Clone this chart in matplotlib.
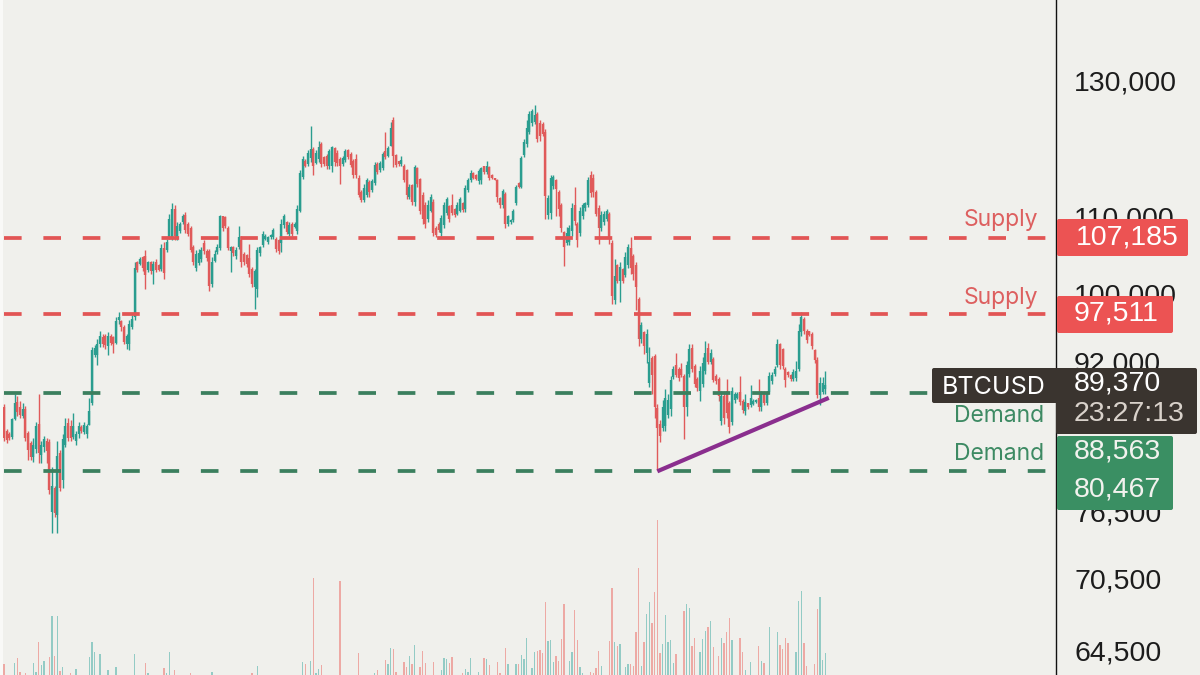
from matplotlib import pyplot as plt
from matplotlib.patches import FancyBboxPatch, Rectangle
import numpy as np

# BTCUSD daily candles, prices in thousands of USD
opens = [87.0,84.5,84.2,83.9,85.7,87.6,87.0,86.1,86.8,84.3,
         83.2,81.8,82.6,85.2,82.0,82.8,83.5,83.4,76.5,78.8,
         76.2,82.2,79.5,83.0,85.3,85.0,83.9,83.5,84.2,84.9,
         84.4,84.2,85.1,87.4,92.8,92.8,94.0,94.9,95.0,93.8,
         95.0,94.8,94.2,96.8,96.7,96.0,94.0,94.0,96.0,97.2,
         104.0,103.8,104.6,104.8,103.0,104.0,102.8,104.0,103.6,103.1,
         105.8,105.6,107.1,107.2,111.0,107.2,108.0,109.2,110.2,109.0,
         108.4,106.0,103.3,103.9,104.4,106.5,105.4,105.4,101.2,104.2,
         105.3,105.8,110.0,109.9,108.5,105.4,105.9,104.8,105.9,106.8,
         105.0,104.9,104.5,103.1,100.8,100.6,105.2,106.2,107.0,106.6,
         107.2,107.2,107.0,106.8,106.5,108.8,109.2,107.6,109.0,108.6,
         108.0,110.8,115.5,117.8,117.3,118.2,119.5,117.5,118.0,120.2,
         118.3,118.5,117.0,117.0,119.6,119.0,118.0,117.3,117.9,119.3,
         118.8,117.8,118.0,115.4,113.4,112.3,113.0,114.8,113.7,114.6,
         117.4,116.4,116.7,119.2,118.5,120.0,123.9,118.6,117.7,117.4,
         117.1,116.4,112.7,114.3,112.0,116.7,115.2,113.0,111.6,109.6,
         110.8,112.0,108.4,109.0,107.8,108.9,110.5,111.4,111.5,111.0,
         110.4,110.8,111.8,111.0,113.7,115.0,116.0,115.8,114.9,115.0,
         117.0,116.2,116.9,115.8,115.3,115.0,112.5,111.6,113.1,109.0,
         109.2,109.5,111.9,114.6,114.1,118.6,120.2,122.0,123.4,123.6,
         124.8,123.4,123.2,122.0,110.2,110.5,114.2,115.0,113.4,111.5,
         107.9,106.5,106.6,108.0,111.6,109.0,107.8,110.0,111.1,111.6,
         115.8,115.4,113.4,111.2,108.5,109.2,109.7,110.4,106.5,99.2,
         103.6,101.6,103.1,102.4,103.6,105.8,104.8,103.6,99.4,94.6,
         95.4,93.0,89.6,92.4,92.6,86.9,85.2,84.8,85.0,86.2,
         86.8,90.3,91.6,91.2,91.2,90.4,87.0,90.6,93.6,91.5,
         90.1,88.8,89.5,91.0,93.6,92.0,92.3,90.4,90.1,85.5,
         88.2,88.8,87.4,85.4,87.8,88.0,88.6,87.7,86.6,87.4,
         87.2,87.3,87.6,88.0,87.0,88.5,87.5,88.6,89.8,90.6,
         91.6,94.0,93.4,91.2,90.8,90.5,90.1,90.2,91.2,95.4,
         97.0,95.6,95.5,95.2,93.3,92.2,88.3,88.6,89.0]
highs = [87.3,84.7,84.4,85.9,88.4,88.2,87.7,87.5,87.1,84.5,
         83.5,83.8,85.4,88.4,83.5,84.0,83.8,83.7,80.8,79.0,
         83.5,82.5,84.2,85.8,85.9,85.6,86.4,84.5,85.4,85.1,
         85.4,85.2,88.0,93.7,93.9,94.6,95.6,95.2,95.2,95.4,
         95.2,95.0,97.2,97.8,96.8,96.2,95.2,96.8,97.4,104.0,
         104.2,104.6,104.8,105.5,104.2,104.2,104.2,104.4,103.8,106.3,
         106.6,107.0,110.4,111.8,111.6,109.2,109.2,110.4,110.6,109.2,
         108.7,106.2,105.5,105.7,105.9,106.8,105.7,105.7,104.6,105.5,
         106.3,110.2,110.1,110.1,108.7,106.1,106.1,105.9,108.7,107.4,
         105.3,105.1,106.3,103.4,103.1,105.9,106.1,108.1,107.7,107.4,
         107.7,108.5,107.2,107.0,109.6,110.4,109.4,109.2,109.2,109.2,
         111.6,116.4,118.5,118.0,119.3,123.0,119.8,119.3,120.7,120.5,
         118.5,118.8,119.5,120.0,119.8,119.3,118.3,118.5,119.5,119.5,
         119.1,118.0,118.8,115.7,113.6,114.5,115.4,115.0,115.2,117.6,
         117.6,117.8,119.1,122.0,120.0,123.5,124.3,118.8,117.8,118.5,
         117.3,116.6,114.5,114.5,117.2,116.9,115.4,113.4,112.0,112.2,
         113.1,112.4,108.7,109.2,110.2,112.0,112.7,111.6,113.1,111.2,
         112.0,112.7,112.0,114.3,115.4,116.4,116.2,115.9,116.6,116.9,
         117.1,117.8,117.1,115.9,115.4,115.2,112.7,113.8,113.4,110.2,
         109.6,111.0,114.3,114.8,118.5,121.0,123.8,125.3,125.6,126.1,
         125.1,123.8,123.5,122.5,113.0,115.7,115.8,115.2,113.6,111.8,
         108.1,108.6,108.8,111.8,114.1,109.2,111.3,111.8,112.0,115.5,
         116.3,115.9,113.6,111.5,110.8,110.8,111.0,110.6,106.8,104.4,
         103.8,104.0,103.3,105.3,106.4,107.2,105.1,104.0,99.6,96.6,
         95.6,95.8,93.7,92.7,92.9,87.3,85.6,87.8,89.0,88.4,
         90.4,91.5,93.0,91.4,91.9,90.6,92.1,94.0,94.0,91.7,
         90.3,91.5,92.5,94.4,94.2,93.5,92.5,90.6,90.3,88.8,
         88.8,90.1,87.7,89.2,88.6,88.6,90.4,87.9,88.4,87.5,
         89.4,87.9,87.9,90.1,88.8,88.8,88.8,90.8,90.8,91.5,
         94.6,94.2,93.6,91.4,91.0,90.6,91.2,92.1,96.4,97.8,
         97.2,95.8,95.6,95.4,93.5,92.5,90.3,90.3,91.0]
lows = [83.5,83.2,83.6,83.7,85.6,86.1,85.8,85.8,83.5,81.5,
        81.5,81.3,82.2,81.2,81.2,82.3,81.2,78.2,74.5,76.0,
        74.5,78.5,78.8,82.8,83.5,83.5,83.7,83.0,83.8,84.3,
        84.2,83.8,85.1,87.2,92.5,91.6,93.7,93.7,93.5,92.8,
        93.9,93.0,94.0,96.4,95.6,94.0,93.5,93.3,95.8,96.8,
        102.7,103.6,102.9,100.6,102.7,102.5,101.2,102.7,102.9,102.9,
        101.9,105.3,107.0,106.8,106.8,106.8,107.8,109.0,107.8,107.4,
        105.3,103.6,102.9,103.6,104.0,105.1,104.2,100.4,100.8,104.0,
        105.1,105.5,108.1,108.5,105.5,102.7,104.8,104.4,105.7,103.4,
        103.6,103.4,102.1,100.8,98.2,99.6,104.8,105.9,106.8,106.3,
        107.0,107.0,105.3,105.1,105.3,108.5,107.7,107.4,107.4,108.5,
        107.7,110.6,115.2,116.9,117.1,117.6,115.7,117.3,117.6,116.9,
        117.1,116.6,116.6,116.2,117.1,117.1,114.5,117.1,117.6,118.0,
        116.9,115.4,115.4,112.7,112.0,112.0,112.7,112.7,113.4,114.3,
        115.9,116.2,116.4,118.0,118.3,120.0,116.9,116.9,117.1,117.1,
        114.8,112.4,112.4,111.6,111.4,114.1,110.4,109.0,108.5,109.2,
        110.6,107.4,107.2,107.9,107.4,108.5,110.2,109.2,110.2,109.9,
        110.2,110.6,110.6,110.6,113.4,114.8,115.2,115.0,114.5,114.5,
        115.9,115.9,115.0,115.2,115.0,112.0,111.2,111.2,108.5,108.7,
        109.0,109.2,111.6,113.9,113.9,118.3,119.8,121.7,123.0,123.3,
        120.5,120.7,121.5,109.6,109.7,109.7,113.8,110.0,110.0,107.9,
        103.5,106.2,106.2,107.4,108.9,106.0,107.4,109.7,110.8,111.3,
        112.7,112.7,110.0,106.4,108.1,108.9,109.4,106.4,98.8,98.8,
        101.3,99.0,101.3,102.1,103.3,102.5,101.7,98.0,93.8,94.2,
        92.9,91.9,89.2,88.4,85.9,80.5,83.3,84.5,84.5,85.9,
        86.1,90.1,90.3,89.9,90.3,83.7,86.1,90.3,90.8,89.2,
        88.8,87.7,89.2,90.6,91.7,91.7,89.7,89.5,87.7,85.1,
        85.2,85.9,84.3,85.1,87.5,87.9,87.2,86.4,86.2,86.8,
        87.0,87.2,87.5,86.6,86.6,87.2,87.2,88.4,89.5,90.4,
        91.4,91.2,91.2,89.2,90.3,89.9,89.9,89.9,91.0,95.0,
        95.2,94.2,95.0,93.5,91.9,88.0,87.2,88.4,88.4]
closes = [83.8,83.6,83.8,85.7,87.4,86.5,86.2,86.8,83.8,82.5,
          81.8,83.0,85.0,82.2,83.0,83.7,82.4,78.6,79.0,76.4,
          81.9,78.8,83.7,85.0,83.8,83.8,85.0,84.2,85.0,84.5,
          85.1,85.0,86.6,93.3,93.6,94.0,95.0,94.0,93.9,95.0,
          94.1,94.0,96.7,97.2,96.0,94.3,95.0,96.4,97.0,103.3,
          103.0,104.4,103.2,102.4,104.0,102.8,103.8,103.0,103.0,105.8,
          102.6,106.6,109.6,111.0,107.4,108.7,109.0,110.0,108.2,107.6,
          105.6,104.0,105.0,105.2,105.6,105.4,104.5,101.0,104.0,105.0,
          106.0,110.0,108.5,108.7,105.8,106.0,105.2,105.6,107.3,104.0,
          104.0,103.7,102.5,101.2,102.9,105.6,105.9,107.6,107.4,107.2,
          107.5,108.2,105.7,105.4,109.0,110.0,107.9,108.9,107.6,109.0,
          111.0,116.0,118.0,117.1,119.0,119.5,117.0,119.0,119.8,117.4,
          117.4,117.0,119.2,119.8,117.6,117.5,117.0,118.2,119.2,118.3,
          117.2,115.7,115.8,113.0,112.3,113.9,115.0,113.4,114.9,117.2,
          116.2,117.5,118.8,118.3,119.7,122.6,118.5,117.2,117.3,117.9,
          115.0,113.0,114.0,112.0,116.9,114.5,110.8,109.6,109.0,111.6,
          112.7,107.8,107.5,108.2,109.8,111.5,112.4,109.6,110.5,110.2,
          111.6,112.4,110.9,113.9,115.1,116.0,115.4,115.2,116.3,116.7,
          116.2,117.0,115.3,115.4,115.1,112.6,111.5,113.5,109.0,110.0,
          109.5,110.7,114.0,114.1,118.2,120.6,122.6,124.8,125.2,124.6,
          121.0,121.5,121.8,112.8,112.5,115.4,115.5,113.8,111.0,108.4,
          106.0,107.8,108.4,111.2,109.4,106.8,110.8,111.5,111.8,115.0,
          113.2,113.4,110.4,108.4,110.2,110.4,110.8,107.0,99.8,102.2,
          101.6,103.4,101.6,104.6,105.9,103.3,102.5,100.8,94.6,96.2,
          93.8,95.2,92.0,90.5,87.0,84.8,84.0,87.0,88.0,87.8,
          90.0,91.2,90.5,90.2,90.5,87.0,91.6,93.4,91.2,89.5,
          89.1,91.0,91.9,93.0,92.0,93.0,90.0,89.8,88.2,88.2,
          85.8,86.4,84.9,88.8,88.4,88.4,87.6,86.7,87.6,87.0,
          88.0,87.7,87.8,87.0,88.4,87.5,88.4,90.4,90.5,91.2,
          94.0,91.6,91.5,90.0,90.5,90.1,90.9,91.0,95.6,97.2,
          95.6,94.5,95.1,93.8,92.2,88.3,89.6,89.6,89.4]
volumes = [11,0,0,0,12,17,3,0,2,0,
           0,12,3,33,10,14,0,18,59,19,
           59,4,8,0,0,2,0,6,0,0,
           0,0,18,33,23,0,21,0,0,5,
           0,0,8,0,0,0,0,0,0,21,
           0,0,0,12,2,0,0,0,0,0,
           7,2,23,0,5,0,0,0,0,0,
           2,0,0,0,0,0,0,0,3,0,
           0,0,0,0,0,0,0,0,0,0,
           0,0,0,2,0,9,0,0,0,0,
           0,0,0,0,0,0,0,0,0,0,
           0,0,13,11,0,14,97,2,6,10,
           0,0,0,0,0,0,94,0,0,0,
           0,0,0,22,0,0,0,0,0,2,
           5,0,0,15,11,27,26,3,0,0,
           13,8,19,11,30,0,8,24,12,0,
           0,13,0,0,5,17,16,12,18,0,
           0,0,2,6,3,17,0,0,3,0,
           17,16,10,0,0,13,2,0,27,11,
           0,0,11,11,20,16,37,0,7,23,
           24,25,22,73,34,35,13,19,14,36,
           71,0,14,23,65,35,8,2,0,0,
           3,2,7,24,9,0,0,34,87,33,
           29,31,0,8,11,11,9,43,107,9,
           33,61,73,52,83,155,22,31,60,33,
           35,12,21,0,0,64,71,67,29,37,
           0,23,36,44,48,54,28,0,19,37,
           32,43,57,35,0,0,37,23,5,0,
           13,0,0,29,14,12,0,48,0,0,
           43,30,26,37,32,0,0,23,74,84,
           32,9,0,0,11,66,78,15,22]

supply_levels = [107.185, 97.511]
demand_levels = [88.563, 80.467]
trend_x = [245, 309.3]
trend_y = [80.4, 88.0]
price_ticks = [130, 110, 100, 92, 83, 76.5, 70.5, 64.5]
price_labels = ['130,000', '110,000', '100,000', '92,000', '83,000', '76,500', '70,500', '64,500']

BG = '#f0f0ec'
UP = '#2a9d8f'
DOWN = '#e05a5a'
SUPPLY = '#e25555'
DEMAND = '#3b7f5e'
FONT = ['Inter', 'DejaVu Sans']
NUMS = ['Liberation Sans', 'DejaVu Sans']

opens, highs, lows, closes = map(np.array, (opens, highs, lows, closes))
x = np.arange(len(closes))
colors = np.where(closes >= opens, UP, DOWN)
vol_colors = np.where(closes >= opens, '#93cbc5', '#eda9a4')

fig = plt.figure(figsize=(12, 6.75), dpi=100, facecolor=BG)
pos = [0, 0, 1056 / 1200, 1]

# volume sits behind the price panel
vax = fig.add_axes(pos, facecolor=BG)
vax.bar(x, volumes, width=0.55, color=vol_colors)
vax.set_xlim(-1.5, 394.5)
vax.set_ylim(0, 675)
vax.axis('off')

ax = fig.add_axes(pos, facecolor='none')
ax.set_yscale('log')
ax.vlines(x, lows, highs, colors=colors, lw=1.0, zorder=2)
ax.vlines(x, opens, closes, colors=colors, lw=1.7, zorder=3)
dash = (0, (4.7, 5.8))
for level in supply_levels:
    ax.hlines(level, 0, 392, colors=SUPPLY, lw=2.7, linestyles=[dash], zorder=4)
for level in demand_levels:
    ax.hlines(level, 0, 392, colors=DEMAND, lw=2.7, linestyles=[dash], zorder=4)
ax.plot(trend_x, trend_y, color='#8a2e8e', lw=3, solid_capstyle='butt', zorder=5)

ax.set_xlim(-1.5, 394.5)
ax.set_ylim(62.58, 143.56)
ax.set_xticks([])
ax.yaxis.tick_right()
ax.set_yticks(price_ticks, price_labels, family=NUMS, fontsize=20.5, color='#1c1c1c')
ax.minorticks_off()
ax.tick_params(axis='y', length=0, pad=13)
for side in ['left', 'top', 'bottom']:
    ax.spines[side].set_visible(False)
ax.spines['right'].set_color('#111111')
ax.spines['right'].set_linewidth(1.0)

# overlay in pixels for the price tags and labels
tags = fig.add_axes([0, 0, 1, 1], facecolor='none')
tags.set_xlim(0, 1200)
tags.set_ylim(675, 0)
tags.axis('off')
tags.add_patch(Rectangle((0, 0), 3, 675, color='#f9f9f7', lw=0))


def tag(x0, y0, x1, y1, color):
    tags.add_patch(FancyBboxPatch((x0 + 2, y0 + 2), x1 - x0 - 4, y1 - y0 - 4,
                                  boxstyle='round,pad=2,rounding_size=2', fc=color, ec='none'))


def label(x0, y0, s, color, size=20.5, ha='left', family=NUMS):
    tags.text(x0, y0, s, color=color, fontsize=size, family=family, ha=ha, va='center')


tag(1057, 219, 1188, 256, '#ec5353')
tag(1057, 296, 1173, 333, '#ec5353')
tag(1057, 436, 1173, 510, '#3a8f63')
tag(932, 368, 1060, 403, '#3a342f')
tag(1056, 368, 1197, 434, '#3a342f')

label(1076, 237, '107,185', 'white')
label(1074, 314, '97,511', 'white')
label(1074, 452, '88,563', '#f2f2ee')
label(1074, 489, '80,467', '#f2f2ee')
label(1074, 383, '89,370', 'white')
label(1074, 414, '23:27:13', '#d9d2cb')
label(942, 387, 'BTCUSD', 'white', size=18, family=FONT)
label(1038, 220, 'Supply', '#dd5f5f', size=16.5, ha='right', family=FONT)
label(1038, 298, 'Supply', '#dd5f5f', size=16.5, ha='right', family=FONT)
label(1044, 416, 'Demand', '#3d8a63', size=16.5, ha='right', family=FONT)
label(1044, 454, 'Demand', '#3d8a63', size=16.5, ha='right', family=FONT)

fig.savefig('out.png', dpi=100, facecolor=BG)
